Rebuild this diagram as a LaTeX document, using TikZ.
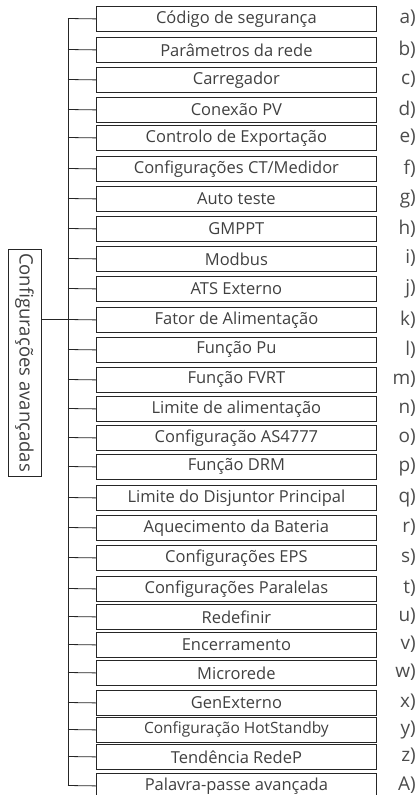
\documentclass[tikz,border=0pt]{standalone}
\usepackage{fontspec}
\setmainfont{Open Sans}
\usetikzlibrary{positioning}

\begin{document}
\begin{tikzpicture}[x=1pt, y=-1pt]
	\tikzstyle{opt}=[draw=black!85, line width=0.8pt, minimum width=280pt, minimum height=25pt, inner sep=0pt, anchor=north west, text=black!75, font=\fontsize{16.5}{16.5}\selectfont]
	\tikzstyle{lbl}=[anchor=east, inner sep=0pt, text=black!70, font=\fontsize{19}{19}\selectfont]
	\tikzstyle{wire}=[draw=black!85, line width=0.8pt]
	\useasboundingbox (0,0) rectangle (417,795);
	\foreach \t/\txt/\l [count=\i] in {
		6/Código de segurança/a, 37/Parâmetros da rede/b, 67/Carregador/c,
		97/Conexão PV/d, 125/Controlo de Exportação/e, 156/Configurações CT\slash Medidor/f,
		186/Auto teste/g, 216/GMPPT/h, 246/Modbus/i, 276/ATS Externo/j,
		307/Fator de Alimentação/k, 337/Função Pu/l, 367/Função FVRT/m,
		396/Limite de alimentação/n, 425/Configuração AS4777/o, 454/Função DRM/p,
		485/Limite do Disjuntor Principal/q, 515/Aquecimento da Bateria/r,
		545/Configurações EPS/s, 576/Configurações Paralelas/t, 604/Redefinir/u,
		632/Encerramento/v, 660/Microrede/w, 690/GenExterno/x,
		717/{\fontsize{15.5}{15.5}\selectfont Configuração HotStandby}/y, 744/Tendência RedeP/z, 773/Palavra-passe avançada/A} {
		\node[opt] (opt\i) at (96,\t) {\txt};
		\node[lbl] (lbl\i) at (416,\t+12.5) {\l)};
		\coordinate (bus\i) at (68,\t+12.5);
		\draw[wire] (bus\i) -- (opt\i.west);
	}
	\draw[wire] (bus1) -- (bus27);
	% caixa principal
	\node[draw=black!85, line width=0.8pt, rotate=-90, minimum width=227pt, minimum height=33pt, inner sep=0pt, text=black!75, font=\fontsize{18.5}{18.5}\selectfont] (adv) at (24.5,362.5) {Configurações avançadas};
	\draw[wire] (adv.north |- bus11) -- (bus11);
\end{tikzpicture}
\end{document}
